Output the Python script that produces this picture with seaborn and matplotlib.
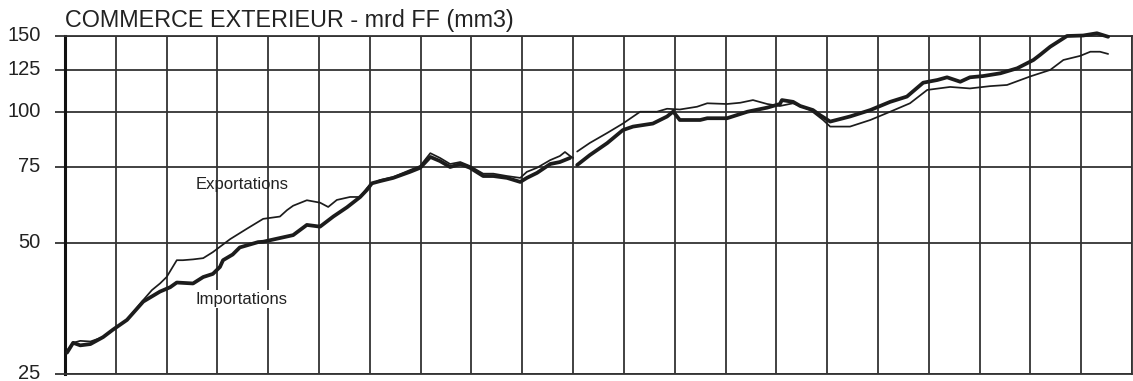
import numpy as np
import pandas as pd
import matplotlib.pyplot as plt
import matplotlib.ticker as mticker
import matplotlib.transforms as mtransforms
import seaborn as sns

# --- Data (log scale, mrd FF) ---
exp_years = [1974.04, 1974.16, 1974.3, 1974.5, 1974.75, 1974.94, 1975.22, 1975.54, 1975.71,
             1975.87, 1976.0, 1976.2, 1976.32, 1976.52, 1976.72, 1976.91, 1977.25, 1977.58,
             1977.9, 1978.23, 1978.37, 1978.49, 1978.76, 1979.02, 1979.18, 1979.35, 1979.61,
             1979.81, 1979.94, 1980.04, 1980.2, 1980.46, 1980.79, 1980.99, 1981.19, 1981.38,
             1981.58, 1981.78, 1981.97, 1982.23, 1982.43, 1982.7, 1982.96, 1983.09, 1983.29,
             1983.55, 1983.74, 1983.84, 1983.94, 1984.0,
             1984.08, 1984.33, 1984.67, 1984.98, 1985.32, 1985.65, 1985.85, 1986.1, 1986.44,
             1986.64, 1987.03, 1987.29, 1987.54, 1987.82, 1988.07, 1988.33, 1988.67, 1988.92,
             1989.06, 1989.45, 1989.85, 1990.24, 1990.63, 1990.97, 1991.42, 1991.81, 1992.21,
             1992.54, 1993.0, 1993.39, 1993.65, 1993.98, 1994.18, 1994.37, 1994.53]
exp_values = [28.3, 29.5, 29.8, 29.7, 30.4, 31.6, 33.3, 37.0, 39.0,
              40.4, 41.8, 45.7, 45.7, 45.9, 46.2, 47.7, 51.1, 54.0,
              56.9, 57.6, 59.6, 61.0, 62.8, 62.0, 60.6, 62.9, 63.9,
              63.9, 66.9, 68.5, 69.9, 71.0, 73.7, 75.3, 80.6, 78.6,
              76.1, 76.9, 75.3, 72.3, 72.3, 71.4, 70.7, 73.0, 74.6,
              77.7, 79.4, 81.1, 79.4, 78.6,
              81.3, 85.1, 89.7, 94.3, 100.4, 100.4, 102.0, 101.6, 103.1,
              105.0, 104.6, 105.3, 106.8, 104.6, 103.5, 105.0, 101.3, 96.1,
              92.8, 92.8, 96.1, 100.4, 105.0, 112.7, 114.5, 113.6, 115.0,
              115.7, 121.1, 125.3, 132.1, 135.0, 138.0, 138.0, 136.4]

imp_years = [1974.04, 1974.16, 1974.3, 1974.5, 1974.75, 1974.94, 1975.22, 1975.54, 1975.87,
             1976.07, 1976.2, 1976.52, 1976.72, 1976.91, 1977.05, 1977.11, 1977.3, 1977.44,
             1977.8, 1977.9, 1978.23, 1978.49, 1978.76, 1979.02, 1979.28, 1979.55, 1979.81,
             1979.94, 1980.04, 1980.2, 1980.46, 1980.79, 1980.99, 1981.19, 1981.38, 1981.58,
             1981.78, 1981.97, 1982.23, 1982.43, 1982.7, 1982.96, 1983.09, 1983.29, 1983.55,
             1983.74, 1983.94,
             1984.08, 1984.33, 1984.67, 1984.98, 1985.18, 1985.57, 1985.85, 1985.97, 1986.1,
             1986.5, 1986.64, 1987.03, 1987.43, 1987.82, 1988.07, 1988.11, 1988.33, 1988.47,
             1988.72, 1988.86, 1989.06, 1989.45, 1989.85, 1990.24, 1990.57, 1990.89, 1991.17,
             1991.36, 1991.62, 1991.81, 1992.07, 1992.41, 1992.74, 1993.06, 1993.19, 1993.39,
             1993.72, 1994.04, 1994.31, 1994.53]
imp_values = [28.0, 29.5, 29.1, 29.3, 30.4, 31.6, 33.3, 36.7, 38.7,
              39.6, 40.6, 40.4, 41.8, 42.5, 44.1, 45.7, 47.1, 48.9,
              50.3, 50.4, 51.4, 52.2, 55.1, 54.6, 57.6, 60.5, 63.9,
              66.3, 68.7, 69.5, 70.7, 73.0, 74.6, 79.0, 77.3, 74.9,
              76.1, 74.6, 71.4, 71.4, 70.7, 69.2, 70.7, 72.6, 76.1,
              76.9, 78.6,
              75.7, 79.8, 85.0, 91.1, 92.8, 94.3, 97.9, 100.5, 96.1,
              96.1, 97.0, 97.0, 100.4, 102.6, 104.6, 106.8, 105.8, 103.5,
              101.3, 98.6, 95.3, 97.9, 101.3, 105.8, 108.8, 117.1, 118.8,
              120.5, 117.7, 120.5, 121.3, 123.1, 126.4, 132.1, 135.7, 141.7,
              150.0, 150.4, 152.2, 149.4]

break_year = 1984.04   # series break (change of base) -> gap in both lines
y_ticks = [25, 50, 75, 100, 125, 150]
x_years = list(range(1974, 1996))

df_exp = pd.DataFrame({'year': exp_years, 'value': exp_values})
df_imp = pd.DataFrame({'year': imp_years, 'value': imp_values})
df_exp['segment'] = (df_exp['year'] > break_year).astype(int)
df_imp['segment'] = (df_imp['year'] > break_year).astype(int)

# --- Plot ---
sns.set_style('white')
plt.rcParams['font.family'] = ['Liberation Sans', 'DejaVu Sans']

fig = plt.figure(figsize=(11.33, 3.81), dpi=100)
ax = fig.add_axes([65 / 1133, 7 / 381, 1067 / 1133, 338 / 381])

line_color = '#1c1c1c'
grid_color = '#333333'

sns.lineplot(data=df_exp, x='year', y='value', units='segment', estimator=None,
             color=line_color, linewidth=1.25, ax=ax, clip_on=False, zorder=3)
sns.lineplot(data=df_imp, x='year', y='value', units='segment', estimator=None,
             color=line_color, linewidth=2.7, ax=ax, clip_on=False, zorder=3)

ax.set_yscale('log')
ax.set_ylim(25, 150)
ax.set_xlim(1974, 1995)
ax.yaxis.set_major_locator(mticker.FixedLocator(y_ticks))
ax.yaxis.set_major_formatter(mticker.FixedFormatter([str(t) for t in y_ticks]))
ax.yaxis.set_minor_locator(mticker.NullLocator())
ax.set_xticks(x_years)
ax.set_xticklabels([])

ax.grid(True, which='major', color=grid_color, linewidth=1.3)
ax.tick_params(axis='y', direction='out', length=7, width=1.3, color=grid_color,
               labelsize=14.5, pad=10.5, left=True)
ax.tick_params(axis='x', length=0)

# tick labels sit a little above their grid lines
shift = mtransforms.ScaledTranslation(0, 2.5 / 100, fig.dpi_scale_trans)
for lab in ax.get_yticklabels():
    lab.set_transform(lab.get_transform() + shift)
    lab.set_color('#222222')

for side in ['top', 'right', 'bottom']:
    ax.spines[side].set_color(grid_color)
    ax.spines[side].set_linewidth(1.3)
ax.spines['left'].set_color('#111111')
ax.spines['left'].set_linewidth(2.2)

ax.set_xlabel('')
ax.set_ylabel('')

ax.text(1977.48, 68.4, 'Exportations', fontsize=12, ha='center', va='center', color='#222222')
ax.text(1977.48, 37.2, 'Importations', fontsize=12, ha='center', va='center', color='#222222',
        bbox={'facecolor': 'white', 'edgecolor': 'none', 'pad': 1})

fig.text(65 / 1133, 1 - 27 / 381, 'COMMERCE EXTERIEUR - mrd FF (mm3)', fontsize=16.8,
         ha='left', va='baseline', color='#222222')

plt.savefig('out.png', dpi=100)
